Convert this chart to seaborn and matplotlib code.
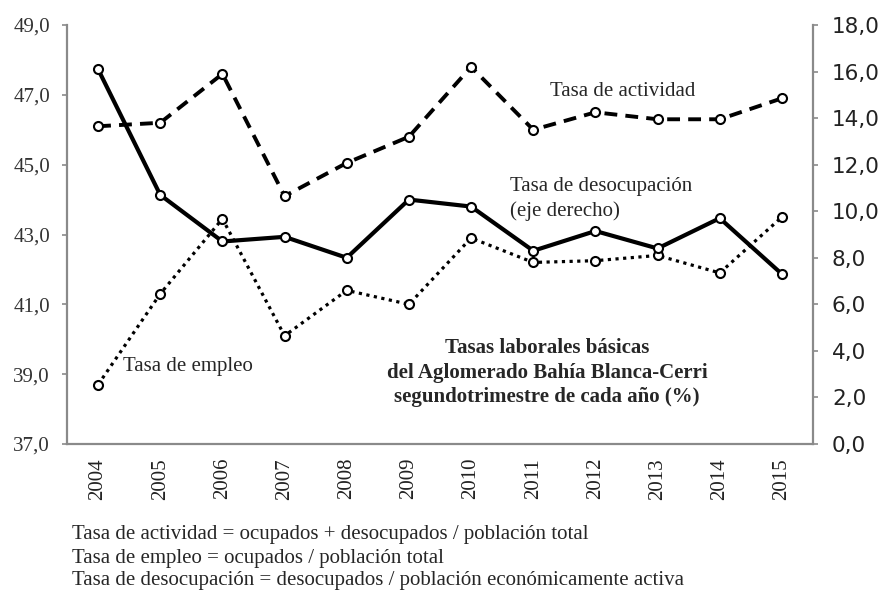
import numpy as np
import matplotlib
matplotlib.use("Agg")
import matplotlib.pyplot as plt
import seaborn as sns
from matplotlib.ticker import FixedLocator, FuncFormatter

# data
years = ["2004", "2005", "2006", "2007", "2008", "2009",
         "2010", "2011", "2012", "2013", "2014", "2015"]
tasa_actividad = [46.1, 46.2, 47.6, 44.1, 45.05, 45.8, 47.8, 46.0, 46.5, 46.3, 46.3, 46.9]
tasa_empleo = [38.7, 41.3, 43.45, 40.1, 41.4, 41.0, 42.9, 42.2, 42.25, 42.4, 41.9, 43.5]
tasa_desocupacion = [16.1, 10.7, 8.7, 8.9, 8.0, 10.5, 10.2, 8.3, 9.15, 8.4, 9.7, 7.3]

left_ticks = [37, 39, 41, 43, 45, 47, 49]
right_ticks = [0, 2, 4, 6, 8, 10, 12, 14, 16, 18]

sns.set_style("white")
plt.rcParams['font.family'] = ['Liberation Serif', 'DejaVu Serif']

W, H = 885, 592
fig = plt.figure(figsize=(W / 100, H / 100), dpi=100)
ax = fig.add_axes([67 / W, 1 - 444 / H, (813 - 67) / W, (444 - 25) / H])
ax2 = ax.twinx()

x = np.arange(len(years))
gray = "#8a8a8a"
mk = dict(marker="o", ms=6.5, mfc="white", mec="black", mew=1.5, color="black")

sns.lineplot(x=x, y=tasa_actividad, ax=ax, lw=2.8, linestyle=(0, (3.3, 2.1)), **mk)
sns.lineplot(x=x, y=tasa_empleo, ax=ax, lw=2.3, linestyle=(0, (1, 1.4)), **mk)
sns.lineplot(x=x, y=tasa_desocupacion, ax=ax2, lw=3.0, linestyle="-", **mk)

# axes ranges
ax.set_xlim(-0.5, len(years) - 0.5)
ax.set_ylim(37, 49)
ax2.set_ylim(0, 18)
ax.set_xlabel("")
ax.set_ylabel("")
ax2.set_ylabel("")

comma = FuncFormatter(lambda v, p: f"{v:.1f}".replace(".", ","))

ax.yaxis.set_major_locator(FixedLocator(left_ticks))
ax.yaxis.set_major_formatter(comma)
ax2.yaxis.set_major_locator(FixedLocator(right_ticks))
ax2.yaxis.set_major_formatter(comma)

ax.set_xticks(x)
ax.set_xticklabels(years, rotation=90)
ax.xaxis.set_minor_locator(FixedLocator(np.arange(len(years) + 1) - 0.5))

for a in (ax, ax2):
    for s in a.spines.values():
        s.set_color(gray)
        s.set_linewidth(1.6)
    a.spines["top"].set_visible(False)
ax.spines["right"].set_visible(False)
ax2.spines["left"].set_visible(False)
ax2.spines["bottom"].set_visible(False)

ax.tick_params(axis="x", which="major", length=0, pad=10, labelsize=15, colors="#222222")
ax.tick_params(axis="x", which="minor", length=4.3, width=1.2, color=gray, direction="out")
ax.tick_params(axis="y", length=3.6, width=1.2, color=gray, direction="out", pad=8.6,
               labelsize=15, labelcolor="#333333")
ax2.tick_params(axis="y", length=3.6, width=1.2, color=gray, direction="out", pad=10,
                labelsize=15.5, labelcolor="#222222")
for lab in ax2.get_yticklabels():
    lab.set_fontfamily("DejaVu Sans")

# annotations
def px(xp, yp):
    return xp / W, 1 - yp / H

fs = 15
fig.text(*px(550, 92), "Tasa de actividad", fontsize=fs, va="center")
fig.text(*px(510, 187), "Tasa de desocupación", fontsize=fs, va="center")
fig.text(*px(510, 211), "(eje derecho)", fontsize=fs, va="center")
fig.text(*px(123, 367), "Tasa de empleo", fontsize=fs, va="center")

fig.text(*px(547, 348), "Tasas laborales básicas", fontsize=fs, fontweight="bold",
         ha="center", va="center")
fig.text(*px(547, 373), "del Aglomerado Bahía Blanca-Cerri", fontsize=fs, fontweight="bold",
         ha="center", va="center")
fig.text(*px(547, 397), "segundotrimestre de cada año (%)", fontsize=fs, fontweight="bold",
         ha="center", va="center")

fig.text(*px(72, 535), "Tasa de actividad = ocupados + desocupados / población total",
         fontsize=fs, va="center")
fig.text(*px(72, 558), "Tasa de empleo = ocupados / población total",
         fontsize=fs, va="center")
fig.text(*px(72, 581), "Tasa de desocupación = desocupados / población económicamente activa",
         fontsize=fs, va="center")

fig.savefig("out.png", dpi=100, facecolor="white")
